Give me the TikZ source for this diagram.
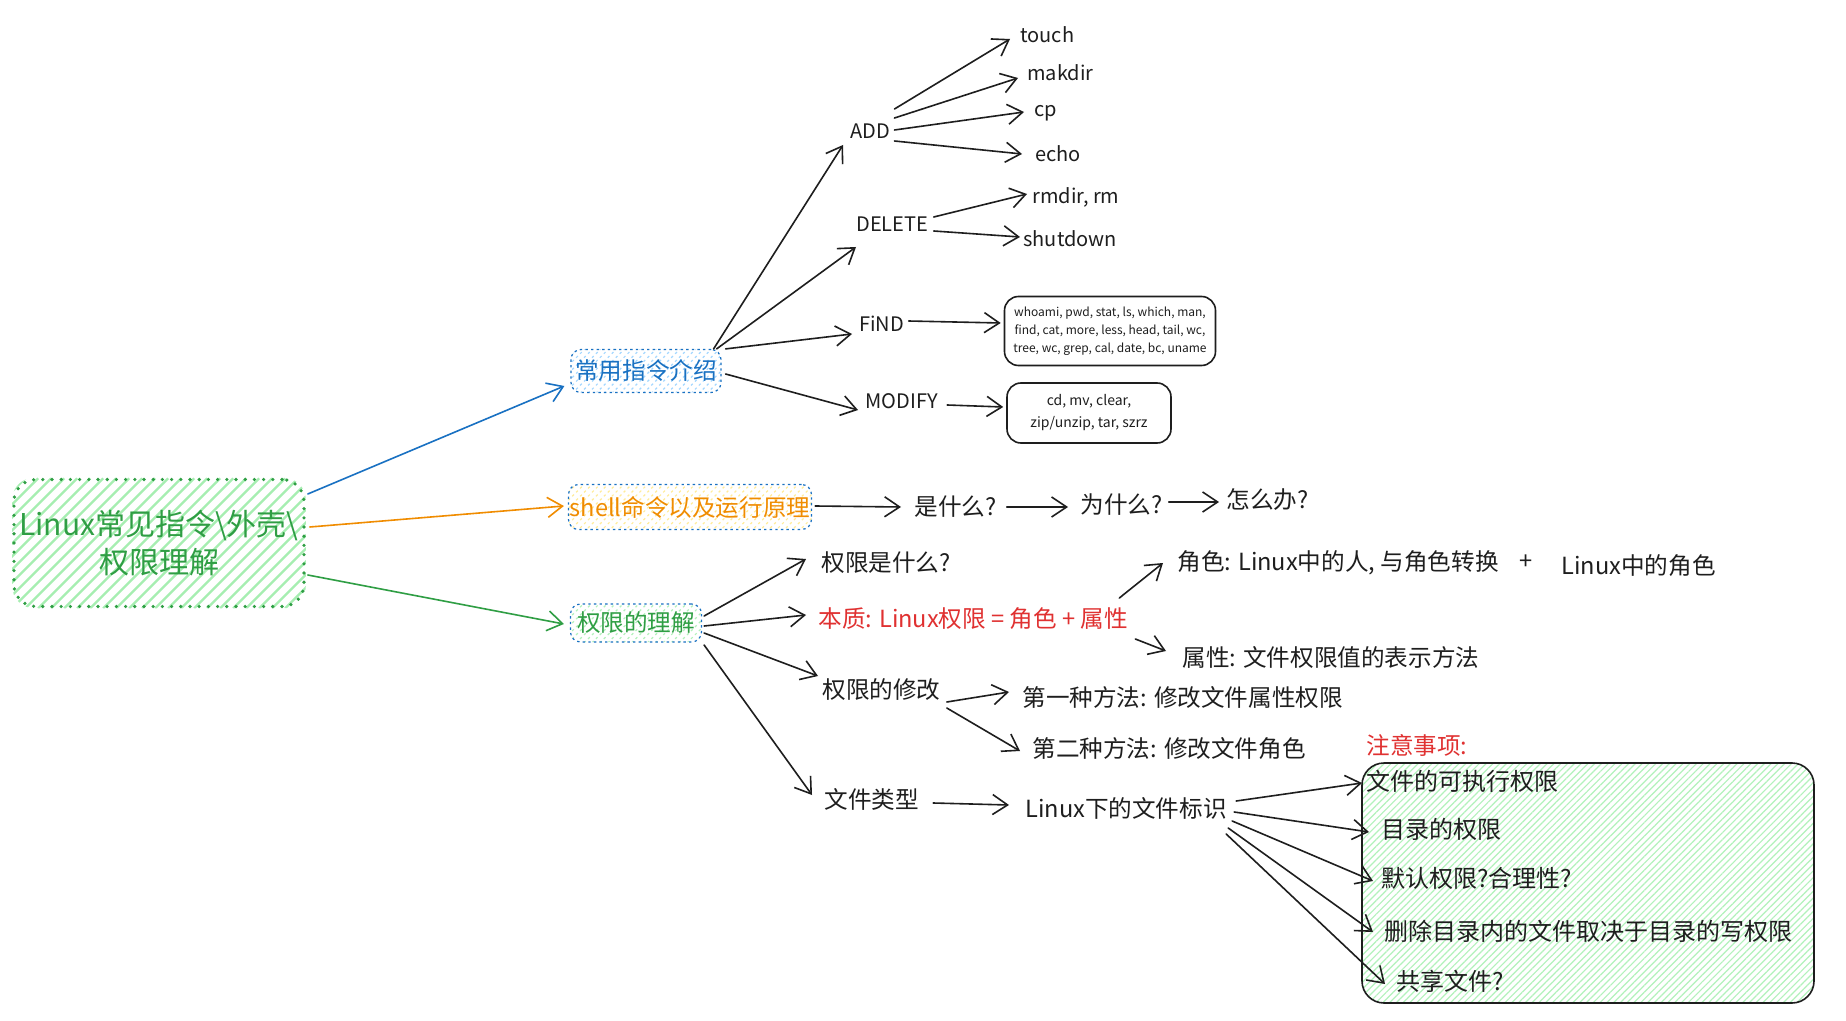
\documentclass[tikz,border=0pt]{standalone}
\usepackage{fontspec}
\setmainfont{Noto Sans CJK SC}
\usetikzlibrary{arrows.meta,patterns.meta,calc}
\pgfdeclarelayer{bg}
\pgfsetlayers{bg,main}
\definecolor{ink}{HTML}{1E1E1E}
\definecolor{grn}{HTML}{2F9E44}
\definecolor{grnf}{HTML}{B2F2BB}
\definecolor{grnh}{HTML}{A6EEB1}
\definecolor{blu}{HTML}{1971C2}
\definecolor{bluf}{HTML}{A5D8FF}
\definecolor{org}{HTML}{F08C00}
\definecolor{orgf}{HTML}{FFEC99}
\definecolor{redt}{HTML}{E03131}
\begin{document}
\begin{tikzpicture}[x=0.5pt,y=-0.5pt,
  lbl/.style={inner sep=0pt, anchor=west, text=ink, font=\fontsize{11.8}{14}\selectfont},
  lat/.style={inner sep=0pt, anchor=west, text=ink, font=\fontsize{10}{12}\selectfont},
  item/.style={inner sep=0pt, anchor=west, text=ink, font=\fontsize{12}{14}\selectfont},
  arr/.style={draw=ink, line width=0.8pt, line cap=round, -{Straight Barb[length=7.5pt,width=10pt]}},
  topicbox/.style={rectangle, rounded corners=5pt, draw=blu, line width=0.6pt,
     dash pattern=on 1.2pt off 1.6pt, inner sep=0pt,
     font=\fontsize{11.8}{14}\selectfont},
  listbox/.style={rectangle, rounded corners=7pt, draw=ink, line width=0.8pt, inner sep=0pt, align=center, text=ink}
]
\begin{pgfonlayer}{bg}
\fill[white] (0,0) rectangle (1846,1021);
\end{pgfonlayer}
\useasboundingbox (0,0) rectangle (1846,1021);

% root
\node[rectangle, rounded corners=11pt, draw=grn, line width=1.8pt, line cap=round,
  dash pattern=on 0pt off 4.6pt,
  minimum width=145pt, minimum height=63.5pt, inner sep=0pt, align=center,
  text=grn, font=\fontsize{15}{19}\selectfont] (root) at (159,543)
  {Linux常见指令\textbackslash 外壳\textbackslash\\权限理解};
\begin{pgfonlayer}{bg}
\begin{scope}
\clip[rounded corners=11pt] (root.south west) rectangle (root.north east);
\foreach \k in {-130,-117,...,300}
  \draw[grnh, line width=1.2pt] ([xshift=\k*0.5pt]root.south west) -- ++(130,-130);
\end{scope}
\end{pgfonlayer}

% level 1
\node[topicbox, pattern={Lines[angle=45,distance=2.8pt,line width=0.6pt]}, pattern color=bluf,
  minimum width=75pt, minimum height=21.5pt, text=blu] (cy) at (646,371) {常用指令介绍};
\node[topicbox, pattern={Lines[angle=45,distance=2.8pt,line width=0.6pt]}, pattern color=orgf,
  minimum width=121.5pt, minimum height=22.5pt, text=org] (sh) at (690,507) {shell命令以及运行原理};
\node[topicbox, pattern={Lines[angle=45,distance=2.8pt,line width=0.6pt]}, pattern color=grnf,
  minimum width=65.5pt, minimum height=19pt, text=grn] (qx) at (636,623) {权限的理解};

\draw[arr, draw=blu] ([shift={(2,-49)}]root.east) -- ([shift={(-6,15)}]cy.west);
\draw[arr, draw=org] ([shift={(4,-16)}]root.east) -- ([shift={(-4,-1)}]sh.west);
\draw[arr, draw=grn] ([shift={(2,32)}]root.east) -- ([shift={(-6,1)}]qx.west);

% commands branch
\node[lat] (add) at (850,131) {ADD};
\node[lat] (touch) at (1020,35) {touch};
\node[lat] (makdir) at (1027,73) {makdir};
\node[lat] (cp) at (1034,113) {cp};
\node[lat] (echo) at (1035,154) {echo};
\node[lat] (del) at (856,224) {DELETE};
\node[lat] (rmdir) at (1032,197) {rmdir, rm};
\node[lat] (shut) at (1023,239) {shutdown};
\node[lat] (find) at (859,324) {FiND};
\node[lat] (mod) at (865,401) {MODIFY};
\node[listbox, minimum width=105.5pt, minimum height=34.5pt, font=\fontsize{6}{9}\selectfont]
  (findbox) at (1110,331) {whoami, pwd, stat, ls, which, man,\\find, cat, more, less, head, tail, wc,\\tree, wc, grep, cal, date, bc, uname};
\node[listbox, minimum width=82pt, minimum height=30pt, font=\fontsize{7}{11}\selectfont]
  (modbox) at (1089,413) {cd, mv, clear,\\zip/unzip, tar, szrz};

\draw[arr] ([shift={(-8,0)}]cy.north east) -- ([shift={(-7,14)}]add.west);
\draw[arr] ([shift={(-5,0)}]cy.north east) -- ([shift={(0,23)}]del.west);
\draw[arr] ([shift={(4,0)}]cy.north east) -- ([shift={(-7,10)}]find.west);
\draw[arr] ([shift={(4,3)}]cy.east) -- ([shift={(-7,9)}]mod.west);
\draw[arr] ([shift={(4,-22)}]add.east) -- ([shift={(-10,4)}]touch.west);
\draw[arr] ([shift={(4,-13)}]add.east) -- ([shift={(-9,5)}]makdir.west);
\draw[arr] ([shift={(4,-1)}]add.east) -- ([shift={(-10,-1)}]cp.west);
\draw[arr] ([shift={(4,10)}]add.east) -- ([shift={(-13,0)}]echo.west);
\draw[arr] ([shift={(5,-7)}]del.east) -- ([shift={(-5,-3)}]rmdir.west);
\draw[arr] ([shift={(5,7)}]del.east) -- ([shift={(-3,-2)}]shut.west);
\draw[arr] ([shift={(4,-3)}]find.east) -- ([shift={(-3,-8)}]findbox.west);
\draw[arr] ([shift={(9,4)}]mod.east) -- ([shift={(-3,-6)}]modbox.west);

% shell branch
\node[lbl] (what) at (914,507) {是什么?};
\node[lbl] (why) at (1080,505) {为什么?};
\node[lbl] (how) at (1226,500) {怎么办?};
\draw[arr] ([shift={(3,-1)}]sh.east) -- ([shift={(-13,0)}]what.west);
\draw[arr] ([shift={(10,0)}]what.east) -- ([shift={(-12,2)}]why.west);
\draw[arr] ([shift={(6,-3)}]why.east) -- ([shift={(-7,2)}]how.west);

% permission branch
\node[lbl] (qwhat) at (821,563) {权限是什么?};
\node[lbl, text=redt] (ess) at (818,619) {本质: Linux权限 = 角色 + 属性};
\node[lbl] (qmod) at (822,690) {权限的修改};
\node[lbl] (ftype) at (824,799) {文件类型};
\node[lbl] (role) at (1177,563) {角色: Linux中的人, 与角色转换};
\node[lbl] (plus) at (1519,562) {+};
\node[lbl] (lrole) at (1561,566) {Linux中的角色};
\node[lbl] (attr) at (1182,658) {属性: 文件权限值的表示方法};
\node[lbl] (m1) at (1022,698) {第一种方法: 修改文件属性权限};
\node[lbl] (m2) at (1032,749) {第二种方法: 修改文件角色};
\node[lbl] (lfile) at (1025,808) {Linux下的文件标识};
\node[lbl, text=redt] (note) at (1366,745) {注意事项:};

\draw[arr] ([shift={(2,-7)}]qx.east) -- ([shift={(-15,-4)}]qwhat.west);
\draw[arr] ([shift={(2,3)}]qx.east) -- ([shift={(-12,-4)}]ess.west);
\draw[arr] ([shift={(2,10)}]qx.east) -- ([shift={(-4,-14)}]qmod.west);
\draw[arr] ([shift={(2,22)}]qx.east) -- ([shift={(-12,-4)}]ftype.west);
\draw[arr] ([shift={(-9,-21)}]ess.east) -- ([shift={(-14,0)}]role.west);
\draw[arr] ([shift={(7,20)}]ess.east) -- ([shift={(-16,-7)}]attr.west);
\draw[arr] ([shift={(6,12)}]qmod.east) -- ([shift={(-13,-6)}]m1.west);
\draw[arr] ([shift={(6,18)}]qmod.east) -- ([shift={(-12,2)}]m2.west);
\draw[arr] ([shift={(14,4)}]ftype.east) -- ([shift={(-16,-3)}]lfile.west);

% notes box
\node[rectangle, rounded corners=11pt, draw=ink, line width=0.8pt,
  pattern={Lines[angle=45,distance=2.4pt,line width=0.6pt]}, pattern color=grnf,
  minimum width=226pt, minimum height=120pt, inner sep=0pt] (gbox) at (1588,883) {};
\node[item] (i1) at (1366,781) {文件的可执行权限};
\node[item] (i2) at (1381,829) {目录的权限};
\node[item] (i3) at (1381,878) {默认权限?合理性?};
\node[item] (i4) at (1384,931) {删除目录内的文件取决于目录的写权限};
\node[item] (i5) at (1396,981) {共享文件?};
\draw[arr] ([shift={(9,-7)}]lfile.east) -- ([shift={(-4,2)}]i1.west);
\draw[arr] ([shift={(7,4)}]lfile.east) -- ([shift={(-12,3)}]i2.west);
\draw[arr] ([shift={(5,13)}]lfile.east) -- ([shift={(-8,3)}]i3.west);
\draw[arr] ([shift={(1,20)}]lfile.east) -- ([shift={(-11,1)}]i4.west);
\draw[arr] ([shift={(-1,26)}]lfile.east) -- ([shift={(-11,3)}]i5.west);
\end{tikzpicture}
\end{document}
